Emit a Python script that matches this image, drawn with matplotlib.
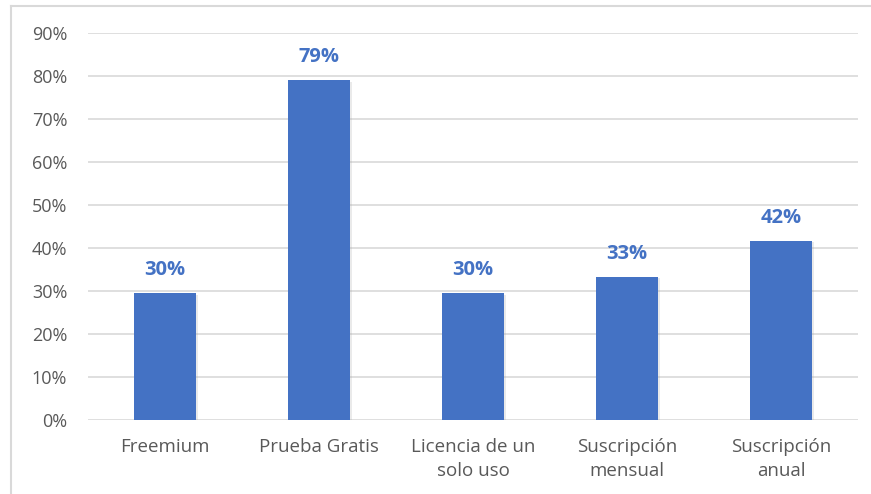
import matplotlib
matplotlib.use("Agg")
import matplotlib.pyplot as plt
from matplotlib.lines import Line2D
import matplotlib.patheffects as pe

categories = ["Freemium", "Prueba Gratis", "Licencia de un\nsolo uso", "Suscripción\nmensual", "Suscripción\nanual"]
values = [0.295, 0.79, 0.295, 0.333, 0.417]
value_labels = ["30%", "79%", "30%", "33%", "42%"]
yticks = [0.0, 0.1, 0.2, 0.3, 0.4, 0.5, 0.6, 0.7, 0.8, 0.9]
ytick_labels = ["0%", "10%", "20%", "30%", "40%", "50%", "60%", "70%", "80%", "90%"]

plt.rcParams['font.family'] = ['Open Sans', 'DejaVu Sans']

fig = plt.figure(figsize=(8.71, 4.94), dpi=100)
ax = fig.add_axes([88/871, 1-420/494, (858-88)/871, (420-33)/494])

x = list(range(len(categories)))
bars = ax.bar(x, values, width=0.4, color="#4472C4", zorder=3)
for b in bars:
    b.set_path_effects([pe.SimplePatchShadow(offset=(1.5, -1), shadow_rgbFace="#999999", alpha=0.2), pe.Normal()])

for xi, v, lab in zip(x, values, value_labels):
    ax.annotate(lab, (xi, v), xytext=(0, 13), textcoords="offset points",
                ha="center", va="baseline", color="#4472C4", fontsize=14.5, fontweight="bold")

ax.set_xlim(-0.5, len(categories) - 0.5)
ax.set_ylim(0, 0.9)
ax.set_yticks(yticks)
ax.set_yticklabels(ytick_labels)
ax.set_xticks(x)
ax.set_xticklabels(categories, linespacing=1.4)
ax.grid(axis="y", color="#D9D9D9", linewidth=1.2, zorder=0)
ax.tick_params(axis="both", length=0, colors="#595959")
ax.tick_params(axis="x", pad=13, labelsize=13.5)
ax.tick_params(axis="y", pad=15, labelsize=13)
for s in ax.spines.values():
    s.set_visible(False)

fig.add_artist(Line2D([11/871, 11/871], [0, 1-6/494], transform=fig.transFigure, color="#D9D9D9", linewidth=1.5))
fig.add_artist(Line2D([11/871, 1], [1-6/494, 1-6/494], transform=fig.transFigure, color="#D9D9D9", linewidth=1.5))

fig.savefig("out.png", dpi=100)
